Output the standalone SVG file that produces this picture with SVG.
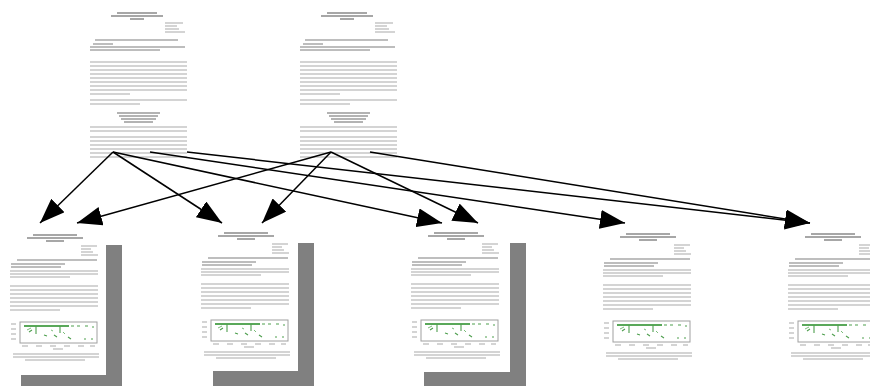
<svg xmlns="http://www.w3.org/2000/svg" xmlns:xlink="http://www.w3.org/1999/xlink" width="870" height="386" viewBox="0 0 870 386">
<style>
.ttl{fill:none;stroke:#8a8a8a;stroke-width:1.3}
.txt{fill:none;stroke:#c6c6c6;stroke-width:1.5}
.dk{fill:none;stroke:#a8a8a8;stroke-width:1.3}
.blk{fill:none;stroke:#9a9a9a;stroke-width:1.6}
.box{fill:none;stroke:#a0a0a0;stroke-width:1}
.grn{fill:none;stroke:#4f9f4f;stroke-width:1.1}
.band{fill:none;stroke:#5aa85a;stroke-width:1.8}
.grn2{fill:none;stroke:#7cbc7c;stroke-width:1}
.shadow{fill:#808080}
.page{fill:#ffffff}
.conn{fill:none;stroke:#000;stroke-width:1.5}
</style>
<defs>
<marker id="ah" viewBox="0 0 25 19" refX="25" refY="9.5" markerWidth="25" markerHeight="19" markerUnits="userSpaceOnUse" orient="auto">
<path d="M0 0L25 9.5L0 19z" fill="#000"/>
</marker>
<g id="toppage">
<path class="ttl" d="M29 8h40M23 11h52M42 14h14"/>
<path class="txt" d="M77 18h18M77 21h12M77 24h14M77 27h20"/>
<path class="dk" d="M7 35h83"/>
<path class="dk" d="M5 39h20M2 42h95M2 45h70"/>
<path class="txt" d="M2 57h97M2 61h97M2 65h97M2 69h97M2 73h97M2 77h97M2 81h97M2 85h97M2 89h40"/>
<path class="txt" d="M2 95h97M2 99h50"/>
<path class="blk" d="M29 108h43M31 111h39M33 114h35M36 117h29"/>
<path class="txt" d="M2 122h97M2 126h97"/>
<path class="txt" d="M2 132h97M2 136h97M2 140h97M2 144h97M2 148h97M2 152h97"/>
</g>
<g id="botpage">
<path class="ttl" d="M28 6h44M22 9h56M41 12h18"/>
<path class="txt" d="M76 17h16M76 20h10M76 23h12M76 26h17"/>
<path class="dk" d="M12 31h80"/>
<path class="dk" d="M6 35h54M6 38h50"/>
<path class="txt" d="M5 42h88M5 45h88M5 48h60"/>
<path class="txt" d="M5 57h88M5 61h88M5 65h88M5 69h88M5 73h88M5 77h88M5 81h50"/>
<path class="txt" d="M6 95h5M6 100h5M6 105h5M6 110h5"/>
<rect class="box" x="15" y="93" width="77" height="21"/>
<path class="band" d="M19 97h45"/>
<path class="grn" d="M66 97h3M72 97h3M80 97h3M87 98h2"/>
<path class="grn" d="M31 97v8M55 97v7M24 103l3-2M39 106l3 1M49 106l3 2M63 108l3 2M79 110h2M86 110h2"/>
<path class="grn2" d="M22 101l4-2M46 101l2 1M58 103l2 2"/>
<path class="txt" d="M17 117h6M31 117h6M45 117h6M59 117h6M73 117h6M85 117h5M48 120h10"/>
<path class="txt" d="M8 125h86M8 128h86M20 131h60"/>
</g>
</defs>

<g id="source-1"><use href="#toppage" x="88" y="5"/></g>
<g id="source-2"><use href="#toppage" x="298" y="5"/></g>

<g id="target-1">
<rect class="shadow" x="21" y="245" width="101" height="146"/>
<rect class="page" x="5" y="229" width="101" height="146"/>
<use href="#botpage" x="5" y="229"/>
</g>
<g id="target-2">
<rect class="shadow" x="213" y="243" width="101" height="146"/>
<rect class="page" x="197" y="227" width="101" height="144"/>
<use href="#botpage" x="196" y="227"/>
</g>
<g id="target-3">
<rect class="shadow" x="424" y="243" width="102" height="146"/>
<rect class="page" x="408" y="227" width="102" height="145"/>
<use href="#botpage" x="406" y="227"/>
</g>
<g id="target-4"><use href="#botpage" x="598" y="228"/></g>
<g id="target-5"><use href="#botpage" x="783" y="228"/></g>

<g id="connectors">
<path class="conn" marker-end="url(#ah)" d="M113 152L40 223"/>
<path class="conn" marker-end="url(#ah)" d="M113 152L222 223"/>
<path class="conn" marker-end="url(#ah)" d="M113 152L442 223"/>
<path class="conn" marker-end="url(#ah)" d="M150 152L625 223"/>
<path class="conn" marker-end="url(#ah)" d="M187 152L810 223"/>
<path class="conn" marker-end="url(#ah)" d="M331 152L77 223"/>
<path class="conn" marker-end="url(#ah)" d="M331 152L262 223"/>
<path class="conn" marker-end="url(#ah)" d="M331 152L478 223"/>
<path class="conn" marker-end="url(#ah)" d="M370 152L810 223"/>
</g>
</svg>
